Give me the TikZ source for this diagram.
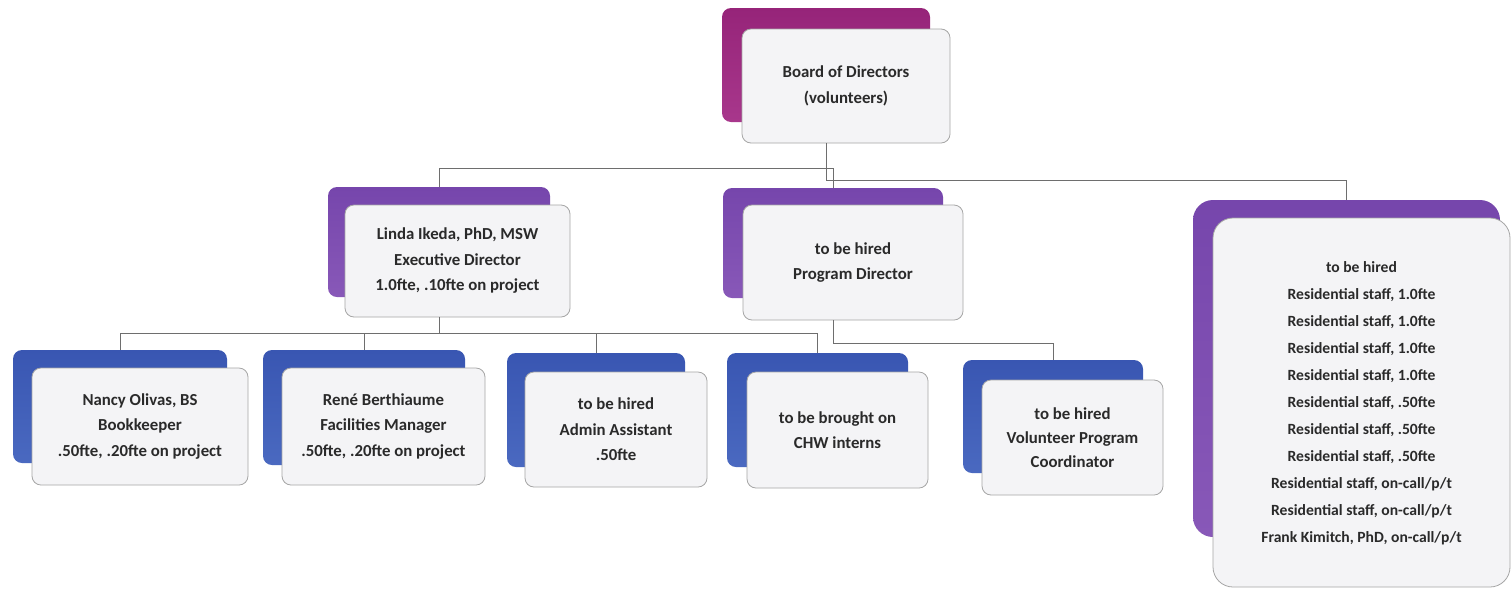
\documentclass[tikz,border=0pt]{standalone}
\usepackage{fontspec}
\setmainfont{Carlito}
\definecolor{mag}{HTML}{962479}
\definecolor{magl}{HTML}{A8378C}
\definecolor{pur}{HTML}{7646AC}
\definecolor{purl}{HTML}{8858B8}
\definecolor{blu}{HTML}{3956B2}
\definecolor{blul}{HTML}{4A69C0}
\definecolor{frontc}{HTML}{F4F4F6}
\definecolor{txt}{HTML}{2A2A2A}
\definecolor{linec}{HTML}{6E6E6E}
\begin{document}
\begin{tikzpicture}[x=1pt,y=-1pt,
  back/.style={rounded corners=9pt, draw=none, inner sep=0pt, outer sep=0pt},
  bmag/.style={back, top color=mag, bottom color=magl},
  bpur/.style={back, top color=pur, bottom color=purl},
  bblu/.style={back, top color=blu, bottom color=blul},
  front/.style={rounded corners=9pt, draw=gray!70, line width=0.8pt, fill=frontc,
    align=center, inner sep=2pt, outer sep=0pt,
    font=\fontsize{16.8}{25.5}\selectfont\bfseries, text=txt},
  conn/.style={draw=linec, line width=0.9pt}]
\useasboundingbox (0,0) rectangle (1511,590);
\fill[white] (0,0) rectangle (1511,590);
% back boxes
\node[bmag, minimum width=208pt, minimum height=114pt] (boardB) at (826,65) {};
\node[bpur, minimum width=222pt, minimum height=110pt] (lindaB) at (439,242) {};
\node[bpur, minimum width=220pt, minimum height=110pt] (pdB) at (833,243) {};
\node[bpur, rounded corners=20pt, minimum width=307pt, minimum height=337pt] (rbB) at (1346.5,368.5) {};
\node[bblu, minimum width=214pt, minimum height=113pt] (nancyB) at (120,406.5) {};
\node[bblu, minimum width=202pt, minimum height=115pt] (reneB) at (364,407.5) {};
\node[bblu, minimum width=178pt, minimum height=114pt] (adminB) at (596,410) {};
\node[bblu, minimum width=181pt, minimum height=114pt] (chwB) at (817.5,410) {};
\node[bblu, minimum width=180pt, minimum height=113pt] (volB) at (1053,416.5) {};
% front boxes
\node[front, minimum width=208pt, minimum height=114pt] (board) at (846,86) {Board of Directors\\(volunteers)};
\node[front, minimum width=225pt, minimum height=112pt] (linda) at (457.5,261) {Linda Ikeda, PhD, MSW\\Executive Director\\1.0fte, .10fte on project};
\node[front, minimum width=220pt, minimum height=115pt] (pd) at (853,262.5) {to be hired\\Program Director};
\node[front, rounded corners=20pt, minimum width=297pt, minimum height=369pt,
  text depth=-5pt, font=\fontsize{15.6}{27}\selectfont\bfseries] (rb) at (1361.5,402.5) {to be hired\\Residential staff, 1.0fte\\Residential staff, 1.0fte\\Residential staff, 1.0fte\\Residential staff, 1.0fte\\Residential staff, .50fte\\Residential staff, .50fte\\Residential staff, .50fte\\Residential staff, on-call/p/t\\Residential staff, on-call/p/t\\Frank Kimitch, PhD, on-call/p/t};
\node[front, minimum width=216pt, minimum height=117pt] (nancy) at (140,426.5) {Nancy Olivas, BS\\Bookkeeper\\.50fte, .20fte on project};
\node[front, minimum width=203pt, minimum height=117pt] (rene) at (383.5,426.5) {René Berthiaume\\Facilities Manager\\.50fte, .20fte on project};
\node[front, minimum width=182pt, minimum height=115pt] (admin) at (616,429.5) {to be hired\\Admin Assistant\\.50fte};
\node[front, minimum width=181pt, minimum height=116pt] (chw) at (837.5,430) {to be brought on\\CHW interns};
\node[front, minimum width=181pt, minimum height=115pt, font=\fontsize{16.8}{24}\selectfont\bfseries] (vol) at (1072.5,437.5) {to be hired\\Volunteer Program\\Coordinator};
% connectors
\draw[conn] (boardB.center |- board.south) -- ++(0,37) -| (rbB.north);
\draw[conn] (lindaB.north) -- ++(0,-19) -| (pdB.north);
\foreach \c in {nancyB,reneB,adminB,chwB}
  \draw[conn] (lindaB.center |- linda.south) -- ++(0,16) -| (\c.north);
\draw[conn] (pdB.center |- pd.south) -- ++(0,23) -| (volB.north);
\end{tikzpicture}
\end{document}
